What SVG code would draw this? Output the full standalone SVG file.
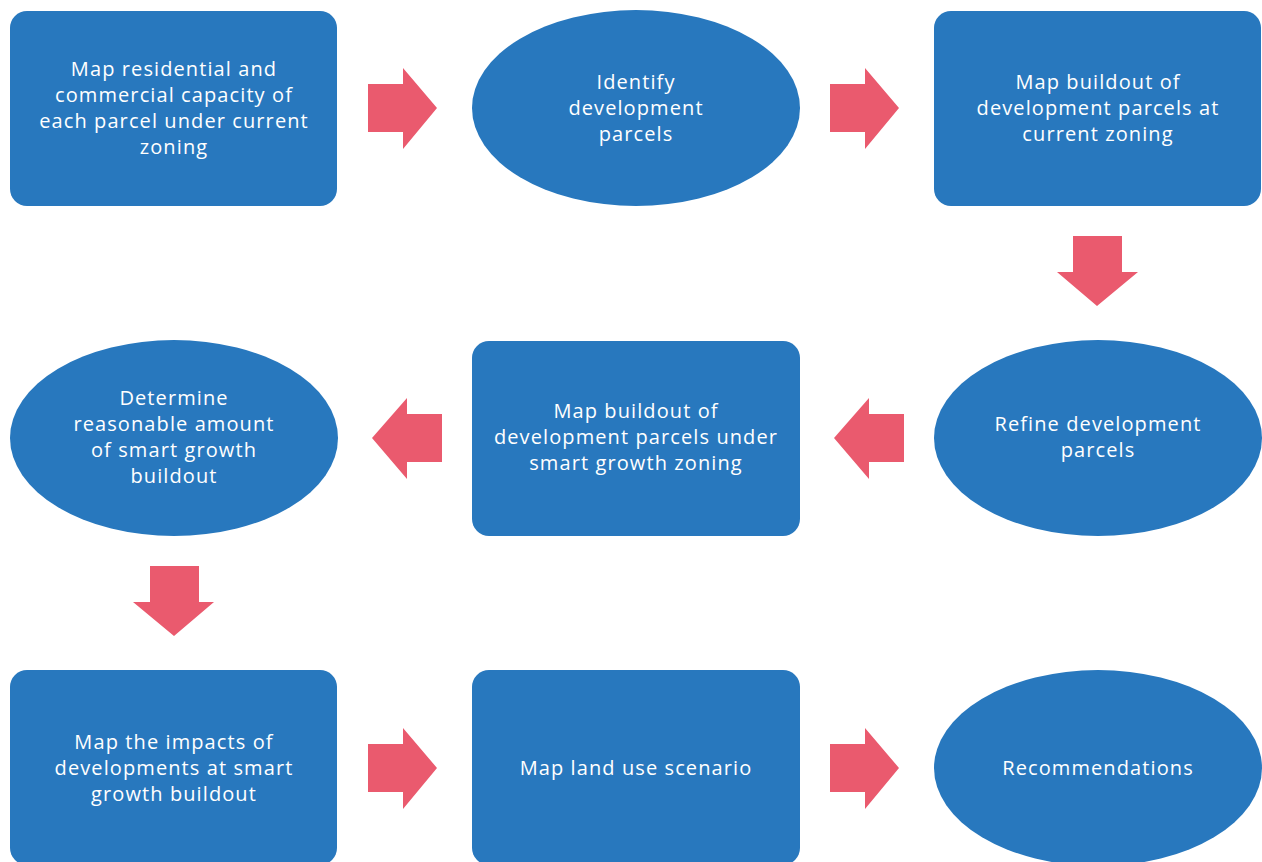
<svg xmlns="http://www.w3.org/2000/svg" width="1262" height="862" viewBox="0 0 1262 862">
<style>
.n{fill:#2878BE}
.a{fill:#EA5A6E}
text{font-family:"Open Sans","DejaVu Sans",sans-serif;font-size:20px;letter-spacing:1.1px;fill:#fff;text-anchor:middle}
</style>
<rect width="1262" height="862" fill="#fff"/>
<g id="n1"><rect class="n" x="10" y="11" width="327" height="195" rx="17"/>
<text x="174" y="76">Map residential and</text><text x="174" y="102">commercial capacity of</text><text x="174" y="128">each parcel under current</text><text x="174" y="154">zoning</text></g>
<g id="n2"><ellipse class="n" cx="636" cy="108" rx="164" ry="98"/>
<text x="636" y="89">Identify</text><text x="636" y="115">development</text><text x="636" y="141">parcels</text></g>
<g id="n3"><rect class="n" x="934" y="11" width="327" height="195" rx="17"/>
<text x="1098" y="89">Map buildout of</text><text x="1098" y="115">development parcels at</text><text x="1098" y="141">current zoning</text></g>
<g id="n4"><ellipse class="n" cx="1098" cy="438" rx="164" ry="98"/>
<text x="1098" y="431">Refine development</text><text x="1098" y="457">parcels</text></g>
<g id="n5"><rect class="n" x="472" y="341" width="328" height="195" rx="17"/>
<text x="636" y="418">Map buildout of</text><text x="636" y="444">development parcels under</text><text x="636" y="470">smart growth zoning</text></g>
<g id="n6"><ellipse class="n" cx="174" cy="438" rx="164" ry="98"/>
<text x="174" y="405">Determine</text><text x="174" y="431">reasonable amount</text><text x="174" y="457">of smart growth</text><text x="174" y="483">buildout</text></g>
<g id="n7"><rect class="n" x="10" y="670" width="327" height="195" rx="17"/>
<text x="174" y="749">Map the impacts of</text><text x="174" y="775">developments at smart</text><text x="174" y="801">growth buildout</text></g>
<g id="n8"><rect class="n" x="472" y="670" width="328" height="195" rx="17"/>
<text x="636" y="775">Map land use scenario</text></g>
<g id="n9"><ellipse class="n" cx="1098" cy="768" rx="164" ry="98"/>
<text x="1098" y="775">Recommendations</text></g>
<g id="connectors">
<polygon class="a" points="368,84 403,84 403,68 437,108 403,149 403,132 368,132"/>
<polygon class="a" points="830,84 865,84 865,68 899,108 865,149 865,132 830,132"/>
<polygon class="a" points="1073,236 1122,236 1122,272 1138,272 1097,306 1057,272 1073,272"/>
<polygon class="a" points="904,414 869,414 869,398 834,438 869,479 869,462 904,462"/>
<polygon class="a" points="442,414 407,414 407,398 372,438 407,479 407,462 442,462"/>
<polygon class="a" points="150,566 199,566 199,602 214,602 174,636 133,602 150,602"/>
<polygon class="a" points="368,744 403,744 403,728 437,768 403,809 403,792 368,792"/>
<polygon class="a" points="830,744 865,744 865,728 899,768 865,809 865,792 830,792"/>
</g>
</svg>
